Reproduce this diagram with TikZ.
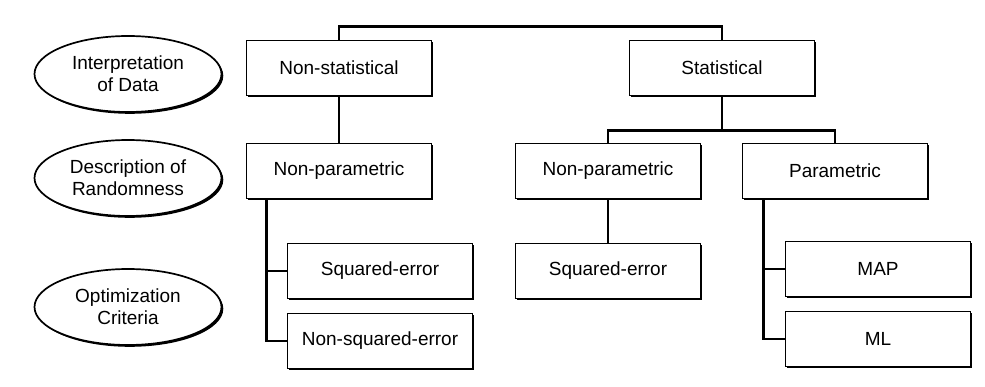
\documentclass[tikz,border=0pt]{standalone}
\usepackage{fontspec}
\setmainfont{Liberation Sans}
\usetikzlibrary{shapes.geometric,shadows}

\tikzset{
  box/.style={draw, line width=1.7pt, fill=white, minimum width=185pt, minimum height=55pt,
    drop shadow={shadow xshift=1.8pt, shadow yshift=-1.8pt, fill=black, opacity=1}},
  level/.style={ellipse, draw, line width=1.7pt, fill=white, minimum width=187pt, minimum height=76pt,
    inner sep=0pt, align=center,
    drop shadow={shadow xshift=1.8pt, shadow yshift=-1.8pt, fill=black, opacity=1}},
  link/.style={line width=2.8pt}
}

\begin{document}
\begin{tikzpicture}[x=1pt, y=1pt, font=\fontsize{19}{22}\selectfont]
            \useasboundingbox[fill=white] (0,0) rectangle (985,386);

            \node[level] (interp) at (128,312) {Interpretation\\of Data};
            \node[level] (descr) [below of=interp, node distance=104pt] {Description of\\Randomness};
            \node[level] (optim) [below of=descr, node distance=129pt] {Optimization\\Criteria};

            \node[box] (nonstat) at (339,318) {Non-statistical};
            \node[box] (stat) [right of=nonstat, node distance=383pt] {Statistical};
            \node[box] (lnonpar) [below of=nonstat, node distance=103pt] {Non-parametric};
            \node[box] (mnonpar) [below of=stat, node distance=103pt, xshift=-114pt] {Non-parametric};
            \node[box] (par) [right of=mnonpar, node distance=227pt] {Parametric};
            \node[box] (lsq) [below of=lnonpar, node distance=100pt, xshift=41pt] {Squared-error};
            \node[box] (lnsq) [below of=lsq, node distance=70pt] {Non-squared-error};
            \node[box] (msq) [below of=mnonpar, node distance=100pt] {Squared-error};
            \node[box] (map) [below of=par, node distance=98pt, xshift=43pt] {MAP};
            \node[box] (ml) [below of=map, node distance=70pt] {ML};

            \draw[link] (nonstat.north) -- ++(0,13) -| (stat.north);
            \draw[link] (nonstat.south) -- (lnonpar.north);
            \draw[link] (stat.south) -- ++(0,-34) coordinate (sfork);
            \draw[link] (mnonpar.north) |- (sfork) -| (par.north);
            \draw[link] (mnonpar.south) -- (msq.north);
            \draw[link] ([xshift=21pt]lnonpar.south west) |- (lsq.west);
            \draw[link] ([xshift=21pt]lnonpar.south west) |- (lnsq.west);
            \draw[link] ([xshift=22pt]par.south west) |- (map.west);
            \draw[link] ([xshift=22pt]par.south west) |- (ml.west);
        \end{tikzpicture}
\end{document}
